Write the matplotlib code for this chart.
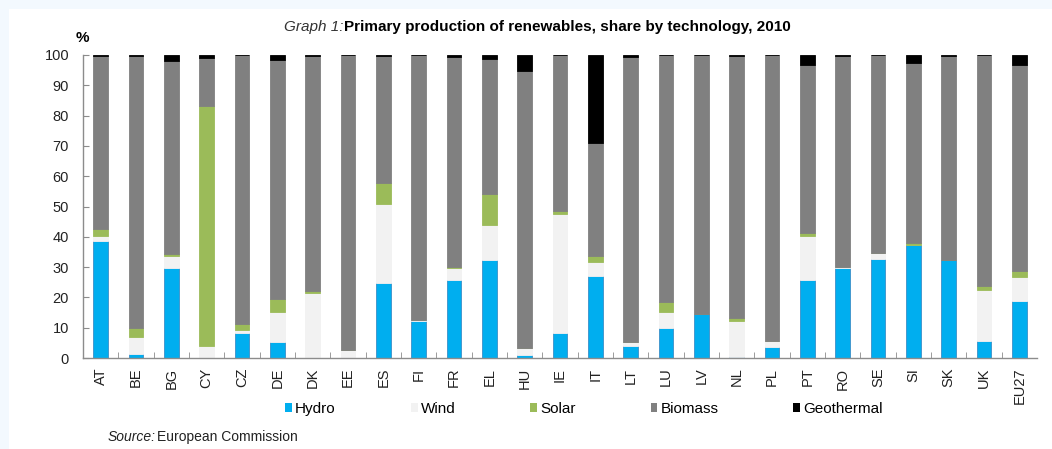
import numpy as np
import matplotlib
matplotlib.use('Agg')
import matplotlib.pyplot as plt
from matplotlib.patches import Rectangle, Patch

plt.rcParams['font.family'] = ['Liberation Sans', 'DejaVu Sans']

countries = ['AT', 'BE', 'BG', 'CY', 'CZ', 'DE', 'DK', 'EE', 'ES', 'FI', 'FR', 'EL', 'HU', 'IE',
             'IT', 'LT', 'LU', 'LV', 'NL', 'PL', 'PT', 'RO', 'SE', 'SI', 'SK', 'UK', 'EU27']

hydro = [38.5, 1.4, 29.6, 0.0, 8.2, 5.3, 0.0, 0.0, 24.7, 12.3, 25.8, 32.4, 0.9, 8.2,
         26.9, 3.8, 9.8, 14.4, 0.2, 3.7, 25.6, 29.7, 32.7, 37.4, 32.4, 5.7, 18.9]
wind = [1.6, 5.4, 3.9, 3.8, 0.9, 9.9, 21.4, 2.7, 26.1, 0.3, 3.9, 11.6, 2.3, 39.4,
        4.7, 1.4, 5.4, 0.0, 11.9, 1.8, 14.5, 0.2, 1.9, 0.0, 0.0, 16.6, 7.8]
solar = [2.4, 3.2, 0.9, 79.4, 2.2, 4.4, 0.7, 0.0, 6.9, 0.0, 0.4, 10.1, 0.2, 0.9,
         2.1, 0.1, 3.2, 0.0, 1.0, 0.1, 1.3, 0.0, 0.1, 0.5, 0.0, 1.5, 2.1]
biomass = [57.1, 89.7, 63.6, 15.7, 88.7, 78.8, 77.6, 97.3, 42.1, 87.4, 69.4, 44.6, 91.4, 51.5,
           37.2, 94.2, 81.6, 85.6, 86.6, 94.4, 55.3, 69.8, 65.3, 59.6, 67.3, 76.2, 67.9]
geothermal = [0.4, 0.3, 2.0, 1.1, 0.0, 1.6, 0.3, 0.0, 0.2, 0.0, 0.5, 1.3, 5.2, 0.0,
              29.1, 0.5, 0.0, 0.0, 0.3, 0.0, 3.3, 0.3, 0.0, 2.5, 0.3, 0.0, 3.3]

series = [('Hydro', hydro, '#00AEEF', '#3A8FC8'),
          ('Wind', wind, '#F2F2F2', '#F2F2F2'),
          ('Solar', solar, '#9BBB59', '#9BBB59'),
          ('Biomass', biomass, '#808080', '#808080'),
          ('Geothermal', geothermal, '#000000', '#000000')]

fig = plt.figure(figsize=(10.52, 4.49), dpi=100, facecolor='#F3F9FE')
fig.patches.append(Rectangle((9 / 1052, 0), 1, 1 - 9 / 449, transform=fig.transFigure,
                             facecolor='white', edgecolor='none', zorder=-5))

ax = fig.add_axes([83 / 1052, 1 - 358 / 449, (1037 - 83) / 1052, (358 - 55) / 449])
ax.set_facecolor('white')

x = np.arange(len(countries))
bottom = np.zeros(len(countries))
handles = []
for name, vals, col, edge in series:
    vals = np.array(vals)
    ax.bar(x, vals, bottom=bottom, width=0.41, color=col, edgecolor=edge, linewidth=0.6)
    bottom += vals
    handles.append(Patch(facecolor=col, edgecolor='none', label=name))

ax.set_xlim(-0.5, len(countries) - 0.5)
ax.set_ylim(0, 100)
ax.set_yticks(np.arange(0, 101, 10))
ax.set_xticks(x)
ax.set_xticklabels(countries, rotation=90)
ax.set_xticks(np.arange(0.5, len(countries) - 0.5, 1), minor=True)

for s in ['top', 'right']:
    ax.spines[s].set_visible(False)
for s in ['left', 'bottom']:
    ax.spines[s].set_color('#8C8C8C')
    ax.spines[s].set_linewidth(1.0)

ax.tick_params(axis='y', direction='in', length=4, color='#8C8C8C', labelsize=10.5,
               labelcolor='#222222', pad=10)
ax.tick_params(axis='x', which='major', length=0, labelsize=10.5, labelcolor='#222222', pad=7)
ax.tick_params(axis='x', which='minor', direction='in', length=4, color='#8C8C8C')

fig.text(82 / 1052, 1 - 38 / 449, '%', fontsize=11, fontweight='bold', ha='center', va='center')

fig.text(344 / 1052, 1 - 27 / 449, 'Graph 1:', fontsize=11, style='italic', color='#333333',
         ha='right', va='center')
fig.text(344 / 1052, 1 - 27 / 449, 'Primary production of renewables, share by technology, 2010',
         fontsize=11, fontweight='bold', ha='left', va='center')

fig.legend(handles=handles, ncol=5, loc='center', bbox_to_anchor=(584 / 1052, 1 - 409 / 449),
           frameon=False, fontsize=11, handlelength=0.45, handleheight=0.45, handletextpad=0.2,
           columnspacing=4.9)

fig.text(108 / 1052, 1 - 437 / 449, 'Source:', fontsize=10, style='italic', color='#222222',
         ha='left', va='center')
fig.text(157 / 1052, 1 - 437 / 449, 'European Commission', fontsize=10, color='#222222',
         ha='left', va='center')

fig.savefig('out.png', dpi=100, facecolor=fig.get_facecolor())
